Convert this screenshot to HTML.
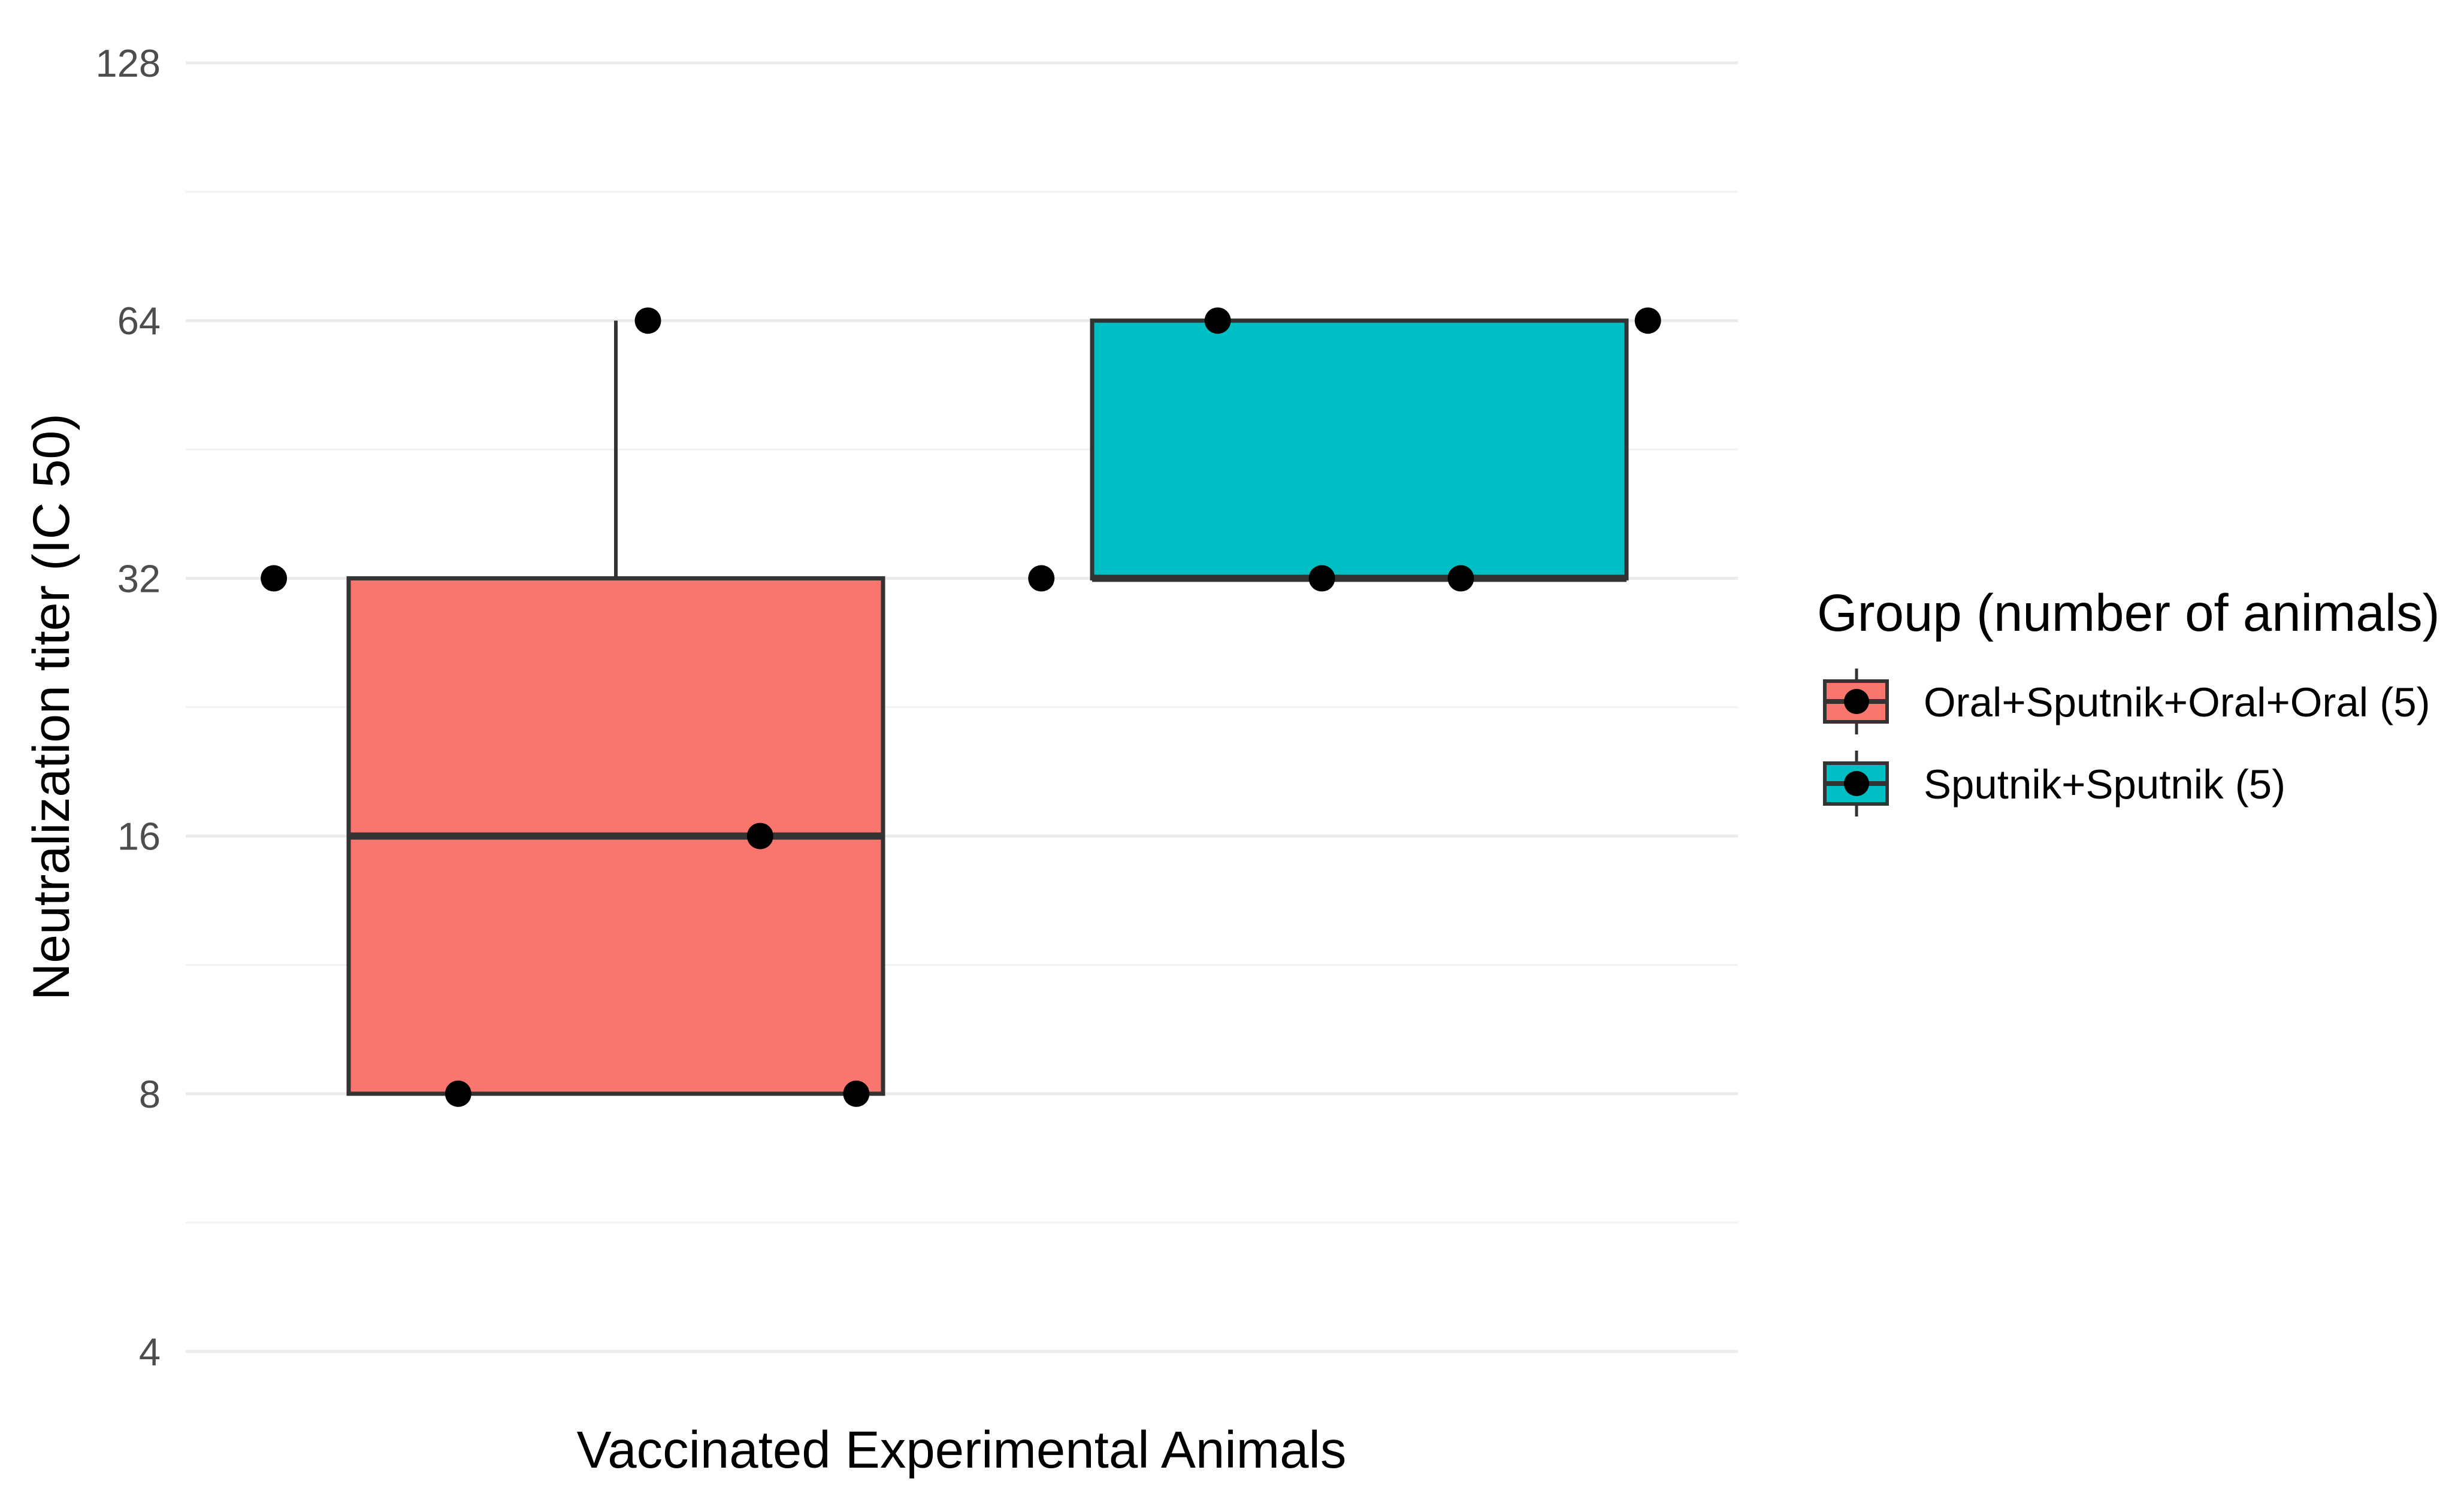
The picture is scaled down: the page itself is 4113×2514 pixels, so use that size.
<!DOCTYPE html>
<html><head><meta charset="utf-8"><style>
body{margin:0;background:#fff}
svg{display:block;font-family:"Liberation Sans",sans-serif}
</style></head><body>
<svg id="chart" width="4113" height="2514" viewBox="0 0 4113 2514"></svg>
<script>
const ticks=[4,8,16,32,64,128];
const tickLabels=["4","8","16","32","64","128"];
const groups=["Oral+Sputnik+Oral+Oral (5)","Sputnik+Sputnik (5)"];
const colors=["#F8766D","#00BFC4"];
const q1=[8,32], med=[16,32], q3=[32,64], whiskLo=[8,32], whiskHi=[64,64];
const ptGroup=[0,0,0,0,0,1,1,1,1,1];
const ptValue=[32,64,16,8,8,32,64,32,32,64];
const ptJitter=[-1.28,0.12,0.54,-0.59,0.9,-1.19,-0.53,-0.14,0.38,1.08];

const NS="http://www.w3.org/2000/svg";
const svg=document.getElementById('chart');
function el(t,a,p){const e=document.createElementNS(NS,t);for(const k in a)e.setAttribute(k,a[k]);(p||svg).appendChild(e);return e;}
const X0=310,X1=2901;
const y=v=>2256-(Math.log2(v)-2)*430.2;
const center=[1028,2269], halfW=446, jitterScale=446;
const gx=g=>center[g];

for(let i=0;i<ticks.length;i++){
  const l=el('line',{x1:X0,x2:X1,y1:y(ticks[i]),y2:y(ticks[i]),stroke:'#ebebeb','stroke-width':5});
  
  if(i<ticks.length-1){const m=Math.sqrt(ticks[i]*ticks[i+1]);
    const ml=el('line',{x1:X0,x2:X1,y1:y(m),y2:y(m),stroke:'#f2f2f2','stroke-width':3});
    }
  const t=el('text',{x:268,y:y(ticks[i])+23,'text-anchor':'end','font-size':65,fill:'#4d4d4d'});
  t.textContent=tickLabels[i];
  
}
for(let g=0;g<groups.length;g++){
  const c=gx(g);
  const w=el('line',{x1:c,x2:c,y1:y(whiskHi[g]),y2:y(q3[g]),stroke:'#333','stroke-width':6});
  
  const w2=el('line',{x1:c,x2:c,y1:y(q1[g]),y2:y(whiskLo[g]),stroke:'#333','stroke-width':6});
  
  const r=el('rect',{x:c-halfW,y:y(q3[g]),width:2*halfW,height:y(q1[g])-y(q3[g]),fill:colors[g],stroke:'#333','stroke-width':7});
  
  const m=el('line',{x1:c-halfW,x2:c+halfW,y1:y(med[g]),y2:y(med[g]),stroke:'#333','stroke-width':12});
  
}
for(let i=0;i<ptValue.length;i++){
  const p=el('circle',{cx:gx(ptGroup[i])+ptJitter[i]*jitterScale,cy:y(ptValue[i]),r:22,fill:'#000'});
  
}
const yt=el('text',{x:0,y:0,transform:'translate(115,1180) rotate(-90)','text-anchor':'middle','font-size':86,fill:'#000'});
yt.textContent='Neutralization titer (IC 50)';

const xt=el('text',{x:1605,y:2450,'text-anchor':'middle','font-size':87,fill:'#000'});
xt.textContent='Vaccinated Experimental Animals';

const lt=el('text',{x:3033,y:1053,'font-size':87,fill:'#000'});
lt.textContent='Group (number of animals)';

const keyY=[1171,1308];
for(let g=0;g<groups.length;g++){
  const cy=keyY[g];
  const gr=el('g',{});
  
  el('line',{x1:3099,x2:3099,y1:cy-55,y2:cy+55,stroke:'#333','stroke-width':5},gr);
  el('rect',{x:3046,y:cy-34,width:104,height:68,fill:colors[g],stroke:'#333','stroke-width':6},gr);
  el('line',{x1:3046,x2:3150,y1:cy,y2:cy,stroke:'#333','stroke-width':8},gr);
  el('circle',{cx:3099,cy:cy,r:21,fill:'#000'},gr);
  const t=el('text',{x:3211,y:cy+25,'font-size':69,fill:'#000'},gr);
  t.textContent=groups[g];
}
</script>
</body></html>
